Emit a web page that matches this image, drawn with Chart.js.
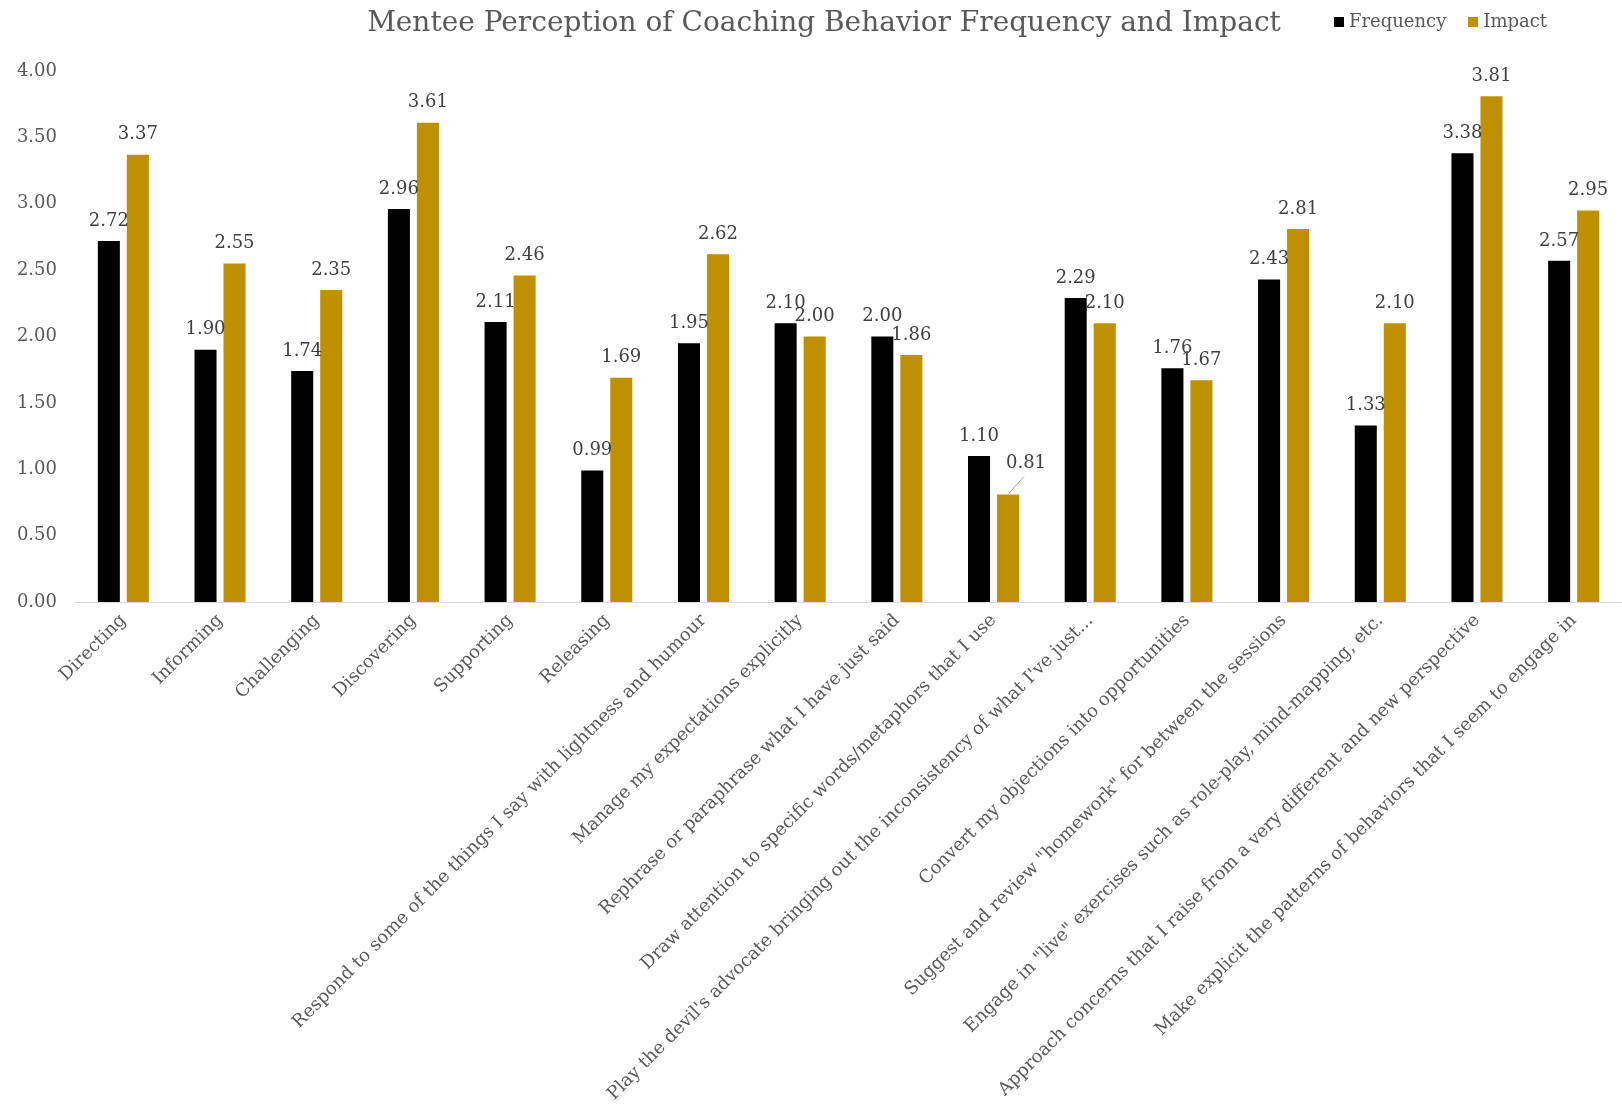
<!DOCTYPE html>
<html>
<head>
<meta charset="utf-8">
<script src="https://cdn.jsdelivr.net/npm/chart.js@4/dist/chart.umd.min.js"></script>
<style>
  html, body { margin: 0; padding: 0; background: #fff; }
  #wrap { position: relative; width: 1622px; height: 1115px; }
  #title {
    position: absolute; top: 5px; left: 824px; transform: translateX(-50%);
    white-space: nowrap; font-family: "DejaVu Serif", serif; font-size: 28px; color: #595959;
  }
  #legend {
    position: absolute; top: 10px; left: 1334px; white-space: nowrap;
    font-family: "DejaVu Serif", serif; font-size: 18px; color: #595959;
  }
  #legend span.box { display: inline-block; width: 10px; height: 10px; margin-right: 5px; }
  #legend span.item { margin-right: 22px; }
</style>
</head>
<body>
<div id="wrap">
  <canvas id="chart" width="1622" height="1115"></canvas>
  <div id="title">Mentee Perception of Coaching Behavior Frequency and Impact</div>
  <div id="legend"></div>
</div>
<script>
// Data
const categories = [
    "Directing",
    "Informing",
    "Challenging",
    "Discovering",
    "Supporting",
    "Releasing",
    "Respond to some of the things I say with lightness and humour",
    "Manage my expectations explicitly",
    "Rephrase or paraphrase what I have just said",
    "Draw attention to specific words/metaphors that I use",
    "Play the devil's advocate bringing out the inconsistency of what I've just...",
    "Convert my objections into opportunities",
    "Suggest and review \"homework\" for between the sessions",
    "Engage in \"live\" exercises such as role-play, mind-mapping, etc.",
    "Approach concerns that I raise from a very different and new perspective",
    "Make explicit the patterns of behaviors that I seem to engage in"
];
const frequency = [2.72, 1.90, 1.74, 2.96, 2.11, 0.99, 1.95, 2.10, 2.00, 1.10, 2.29, 1.76, 2.43, 1.33, 3.38, 2.57];
const impact = [3.37, 2.55, 2.35, 3.61, 2.46, 1.69, 2.62, 2.00, 1.86, 0.81, 2.10, 1.67, 2.81, 2.10, 3.81, 2.95];
const yTicks = [0, 0.5, 1, 1.5, 2, 2.5, 3, 3.5, 4];

const seriesNames = ["Frequency", "Impact"];
const seriesColors = ["#000000", "#bf9000"];

const fontFamily = '"DejaVu Serif", serif';

// moved data labels (dataset, index) -> nudge with leader line
const labelNudges = { "1-9": { dx: 18, dy: -11 } };

// Draws value labels above each bar
const barValueLabels = {
    id: 'barValueLabels',
    afterDatasetsDraw(chart) {
        const ctx = chart.ctx;
        ctx.save();
        ctx.font = '18px ' + fontFamily;
        ctx.fillStyle = '#404040';
        ctx.textAlign = 'center';
        ctx.textBaseline = 'middle';
        chart.data.datasets.forEach((ds, di) => {
            chart.getDatasetMeta(di).data.forEach((bar, i) => {
                const n = labelNudges[di + '-' + i];
                let x = bar.x, y = bar.y - 20;
                if (n) {
                    x += n.dx; y += n.dy;
                    ctx.strokeStyle = '#a6a6a6';
                    ctx.lineWidth = 1;
                    ctx.beginPath();
                    ctx.moveTo(bar.x, bar.y);
                    ctx.lineTo(x - 2, y + 13);
                    ctx.stroke();
                }
                ctx.fillText(ds.data[i].toFixed(2), x, y);
            });
        });
        ctx.restore();
    }
};

// Legend (html)
const legendEl = document.getElementById('legend');
seriesNames.forEach((name, i) => {
    legendEl.innerHTML += '<span class="item"><span class="box" style="background:' + seriesColors[i] + '"></span>' + name + '</span>';
});

const chartEl = document.getElementById('chart');
new Chart(chartEl, {
    type: 'bar',
    data: {
        labels: categories,
        datasets: [
            { label: seriesNames[0], data: frequency, backgroundColor: seriesColors[0] },
            { label: seriesNames[1], data: impact, backgroundColor: seriesColors[1] }
        ]
    },
    options: {
        responsive: false,
        animation: false,
        categoryPercentage: 0.6,
        barPercentage: 0.76,
        layout: { padding: { top: 71, right: 0, left: 0, bottom: 0 } },
        plugins: {
            legend: { display: false },
            title: { display: false },
            tooltip: { enabled: false }
        },
        scales: {
            x: {
                grid: { display: false, drawTicks: false },
                border: { display: true, color: '#d9d9d9', width: 1 },
                ticks: {
                    autoSkip: false,
                    maxRotation: 45,
                    minRotation: 45,
                    padding: 8,
                    color: '#595959',
                    font: { family: fontFamily, size: 18 }
                },
                afterFit: (scale) => { scale.height = 513; }
            },
            y: {
                min: 0,
                max: 4,
                afterBuildTicks: (scale) => { scale.ticks = yTicks.map(v => ({ value: v })); },
                grid: { display: false, drawTicks: false },
                border: { display: false },
                ticks: {
                    padding: 18,
                    color: '#595959',
                    font: { family: fontFamily, size: 18 },
                    callback: (v) => Number(v).toFixed(2)
                },
                afterFit: (scale) => { scale.width = 75; }
            }
        }
    },
    plugins: [barValueLabels]
});
</script>
</body>
</html>
